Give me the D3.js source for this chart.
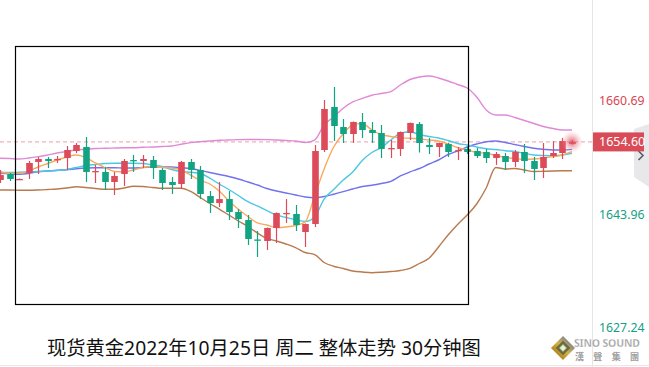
<!DOCTYPE html>
<html><head><meta charset="utf-8">
<script src="https://cdn.jsdelivr.net/npm/d3@7"></script>
<style>
body{margin:0;background:#fff;overflow:hidden;}
svg{display:block;}
text{font-family:"Noto Sans","Noto Sans CJK SC",sans-serif;}
</style>
</head><body><div id="chart"></div>
<script>
// ---- data (30-min candles) ----
const opens  = [1649.00,1649.88,1649.07,1650.03,1651.65,1652.09,1652.01,1652.23,1653.26,1653.85,1650.18,1650.18,1648.71,1649.88,1651.94,1651.79,1651.94,1650.47,1648.71,1648.41,1651.65,1650.47,1646.65,1645.62,1646.20,1644.29,1643.12,1640.25,1640.03,1641.94,1644.07,1644.00,1641.35,1642.53,1653.41,1659.73,1656.79,1655.76,1657.53,1656.35,1655.91,1653.63,1653.56,1655.91,1657.23,1654.15,1653.85,1654.29,1653.34,1653.56,1653.26,1653.12,1652.23,1652.53,1651.65,1653.12,1651.79,1650.76,1652.53,1652.97,1654.30];
const highs  = [1650.47,1650.03,1649.22,1651.79,1652.38,1652.38,1652.53,1654.00,1654.44,1655.32,1651.21,1650.91,1650.18,1652.09,1652.68,1652.68,1652.53,1650.76,1649.44,1651.79,1652.09,1651.06,1647.38,1648.71,1647.38,1644.73,1643.85,1641.50,1642.01,1644.22,1646.20,1645.32,1642.60,1654.15,1660.76,1662.68,1657.97,1657.60,1658.85,1657.53,1657.09,1654.88,1656.13,1657.45,1657.53,1655.18,1654.51,1654.44,1653.85,1653.85,1653.70,1653.56,1653.12,1652.97,1653.41,1654.29,1652.38,1654.44,1654.73,1655.18,1654.85];
const lows   = [1648.56,1648.85,1649.00,1649.15,1649.88,1650.76,1651.50,1650.47,1652.97,1648.71,1648.56,1647.53,1646.79,1648.12,1650.18,1650.76,1649.15,1647.53,1646.94,1647.68,1649.15,1646.20,1644.15,1645.03,1643.12,1641.94,1639.44,1637.68,1638.71,1639.74,1642.68,1641.50,1639.15,1642.09,1653.12,1654.73,1654.44,1654.44,1655.18,1654.44,1652.23,1652.23,1652.53,1654.88,1653.04,1652.82,1652.38,1652.38,1651.94,1652.82,1652.23,1651.50,1651.21,1650.47,1650.91,1650.03,1649.00,1649.29,1652.23,1652.09,1654.20];
const closes = [1649.73,1649.15,1649.15,1651.50,1652.09,1651.79,1652.09,1653.41,1654.15,1650.18,1650.32,1648.71,1649.59,1651.79,1651.79,1652.09,1650.76,1648.56,1648.26,1651.65,1650.47,1646.94,1645.62,1646.20,1644.29,1643.26,1640.32,1640.18,1641.94,1644.15,1644.15,1642.38,1642.53,1653.26,1659.44,1656.94,1655.76,1657.53,1656.35,1655.91,1653.56,1653.70,1656.06,1657.38,1654.44,1653.85,1654.44,1653.12,1653.41,1653.12,1652.53,1652.23,1652.82,1651.65,1653.12,1651.79,1650.62,1652.38,1652.97,1654.73,1654.60];

// moving averages and bands
const maFast = [1650.22,1649.98,1649.98,1650.32,1650.91,1651.43,1651.94,1652.38,1652.68,1652.31,1651.50,1650.84,1650.25,1650.18,1650.47,1650.84,1650.99,1650.84,1650.76,1650.47,1649.73,1648.96,1648.41,1647.38,1645.94,1644.69,1643.63,1642.68,1642.38,1642.01,1642.09,1642.31,1642.82,1646.65,1650.62,1653.85,1655.81,1657.09,1657.31,1656.35,1655.66,1655.40,1655.18,1655.13,1655.03,1654.88,1654.73,1654.29,1653.78,1653.41,1653.04,1652.93,1652.60,1652.34,1652.16,1652.06,1652.09,1652.23,1652.43,1652.68,1653.16];
const maMid  = [1650.10,1650.10,1650.13,1650.18,1650.25,1650.32,1650.40,1650.54,1650.84,1651.13,1651.28,1651.43,1651.46,1651.46,1651.46,1651.43,1651.21,1650.99,1650.54,1650.25,1650.13,1649.96,1649.29,1648.41,1647.60,1646.72,1645.81,1645.18,1644.49,1643.85,1643.49,1643.16,1642.90,1643.56,1646.20,1647.60,1649.00,1650.18,1651.87,1653.04,1653.78,1654.88,1655.87,1656.10,1655.69,1655.40,1655.18,1654.81,1654.37,1654.15,1653.85,1653.59,1653.49,1653.31,1653.19,1652.93,1652.68,1652.60,1652.57,1652.68,1652.93];
const maSlow = [1649.98,1649.91,1649.85,1649.96,1650.22,1650.32,1650.43,1650.50,1650.65,1650.76,1650.81,1650.81,1650.81,1650.76,1650.76,1650.84,1650.91,1650.91,1650.91,1650.79,1650.69,1650.40,1650.10,1649.81,1649.51,1649.15,1648.71,1648.26,1647.75,1647.38,1647.09,1646.79,1646.50,1646.38,1646.57,1646.91,1647.28,1647.68,1648.04,1648.23,1648.49,1648.81,1649.59,1650.18,1650.69,1651.35,1651.94,1652.75,1653.26,1653.85,1654.29,1654.63,1654.73,1654.51,1654.22,1653.93,1653.66,1653.51,1653.41,1653.41,1653.51];
const bandUpper = [1652.19,1652.16,1652.09,1652.23,1652.43,1652.68,1652.97,1653.19,1653.41,1653.51,1653.63,1653.66,1653.70,1653.74,1653.75,1653.81,1653.85,1653.93,1654.00,1654.25,1654.49,1654.63,1654.73,1654.84,1654.88,1654.93,1654.96,1654.96,1654.93,1654.88,1654.81,1654.73,1654.51,1654.88,1657.09,1658.26,1659.54,1660.47,1660.99,1661.46,1661.72,1662.01,1662.97,1663.78,1664.15,1664.29,1664.00,1663.56,1663.04,1662.53,1661.21,1659.29,1658.56,1658.56,1658.19,1657.75,1657.31,1656.87,1656.57,1656.35,1656.35];
const bandLower = [1647.53,1647.53,1647.50,1647.49,1647.53,1647.60,1647.68,1647.82,1648.01,1647.90,1647.75,1647.63,1647.63,1647.82,1648.07,1648.04,1647.90,1647.78,1647.78,1647.78,1647.31,1646.43,1645.54,1644.73,1643.85,1642.97,1642.16,1641.21,1640.40,1640.03,1639.59,1639.07,1638.34,1638.04,1636.87,1636.31,1635.99,1635.62,1635.47,1635.37,1635.43,1635.54,1635.69,1636.01,1636.72,1637.49,1639.15,1640.91,1642.46,1643.85,1645.47,1647.82,1650.84,1650.62,1650.69,1650.47,1650.25,1650.28,1650.32,1650.35,1650.37];

const tickValues = [1660.69, 1643.96, 1627.24];
const lastPrice = 1654.60;
const title = "现货黄金2022年10月25日 周二 整体走势 30分钟图";
const logoTop = "SINO SOUND";
const logoBottom = "漢 聲 集 團";

// ---- layout ----
const W = 649, H = 367;
const plotRight = 592;
const colUp = "#dc4b59", colDown = "#12a383";

const svg = d3.select("#chart").append("svg").attr("width", W).attr("height", H);
const defs = svg.append("defs");
defs.append("clipPath").attr("id","clip").append("rect").attr("x",0).attr("y",0).attr("width",plotRight).attr("height",330);
const glow = defs.append("radialGradient").attr("id","glow");
glow.append("stop").attr("offset","0%").attr("stop-color","#dc4b59").attr("stop-opacity",0.85);
glow.append("stop").attr("offset","45%").attr("stop-color","#e7707c").attr("stop-opacity",0.45);
glow.append("stop").attr("offset","100%").attr("stop-color","#f4a8b0").attr("stop-opacity",0);
const logoGrad = defs.append("linearGradient").attr("id","logoGrad").attr("x1","0").attr("y1","0").attr("x2","0").attr("y2","1");
logoGrad.append("stop").attr("offset","0%").attr("stop-color","#8a8a8a");
logoGrad.append("stop").attr("offset","50%").attr("stop-color","#d4b04a");
logoGrad.append("stop").attr("offset","100%").attr("stop-color","#b08a20");

const x = d3.scaleLinear().domain([0, opens.length - 1]).range([0, 572]);
const y = d3.scaleLinear().domain([1627.24, 1660.69]).range([327.96, 100.5]);

// separator + bottom rule
svg.append("line").attr("x1",plotRight+0.5).attr("x2",plotRight+0.5).attr("y1",0).attr("y2",H).attr("stroke","#e6e6e6");
svg.append("line").attr("x1",0).attr("x2",W).attr("y1",H-1.5).attr("y2",H-1.5).attr("stroke","#e8e8e8");

const plot = svg.append("g").attr("clip-path","url(#clip)");

// current price dashed line
plot.append("line").attr("x1",0).attr("x2",plotRight).attr("y1",y(lastPrice)).attr("y2",y(lastPrice))
  .attr("stroke","#f0b4bb").attr("stroke-width",1.2).attr("stroke-dasharray","4,3");

// lines
const line = d3.line().x((d,i)=>x(i)).y(d=>y(d)).curve(d3.curveMonotoneX);
const series = [
  {v: bandUpper, c: "#e08ad6"},
  {v: bandLower, c: "#b87a4e"},
  {v: maSlow, c: "#7272ee"},
  {v: maMid, c: "#4cc8e2"},
  {v: maFast, c: "#f9a95e"}
];
plot.selectAll("path.s").data(series).join("path").attr("class","s")
  .attr("d", d=>line(d.v)).attr("fill","none").attr("stroke", d=>d.c).attr("stroke-width",1.4);

// candles
const data = opens.map((o,i)=>({i, o, h: highs[i], l: lows[i], c: closes[i]}));
const bw = 6.6;
const cg = plot.selectAll("g.c").data(data).join("g").attr("class","c");
cg.append("line")
  .attr("x1", d=>Math.round(x(d.i))+0.5).attr("x2", d=>Math.round(x(d.i))+0.5)
  .attr("y1", d=>y(d.h)).attr("y2", d=>y(d.l))
  .attr("stroke", d=>d.c>=d.o?colUp:colDown).attr("stroke-width",1.2);
cg.append("rect")
  .attr("x", d=>Math.round(x(d.i))+0.5-bw/2).attr("width", bw)
  .attr("y", d=>y(Math.max(d.o,d.c)))
  .attr("height", d=>Math.max(1.3, Math.abs(y(d.o)-y(d.c))))
  .attr("fill", d=>d.c>=d.o?colUp:colDown);

// glow at last candle
const last = data[data.length-1];
plot.append("circle").attr("cx", x(last.i)).attr("cy", y(lastPrice)).attr("r", 11).attr("fill","url(#glow)");

// annotation rectangle
svg.append("rect").attr("x",15.5).attr("y",46.5).attr("width",453).attr("height",258)
  .attr("fill","none").attr("stroke","#000").attr("stroke-width",1.2);

// right axis
const axis = d3.axisRight(y).tickValues(tickValues).tickSize(0).tickPadding(0).tickFormat(d3.format(".2f"));
const ag = svg.append("g").attr("transform",`translate(${plotRight+7},0)`).call(axis);
ag.select(".domain").remove();
ag.selectAll("text").attr("font-size",12.3).attr("font-family","Noto Sans, sans-serif")
  .attr("fill", d=> d>lastPrice ? "#d9434f" : "#13a083");

// gray tab
svg.append("path").attr("d","M634,129 L649,124 L649,187 L634,177 Z").attr("fill","#e8e8eb");
svg.append("path").attr("d","M638.5,151 L643,155.5 L638.5,160").attr("fill","none").attr("stroke","#5a5a66").attr("stroke-width",1.6);

// last price box
const by = y(lastPrice);
svg.append("rect").attr("x",plotRight+1).attr("y",by-9.5).attr("width",51).attr("height",19).attr("fill","#d94b57");
svg.append("text").attr("x",plotRight+7).attr("y",by).attr("dy","0.35em").attr("font-size",12.5)
  .attr("fill","#fff").text(d3.format(".2f")(lastPrice));

// title
svg.append("text").attr("x",47).attr("y",355).attr("font-size",19.3)
  .attr("font-family","'Noto Sans CJK SC', sans-serif").attr("fill","#111").text(title);

// logo
const lg = svg.append("g").attr("transform","translate(563,348)");
lg.append("rect").attr("x",-8.5).attr("y",-8.5).attr("width",17).attr("height",17).attr("transform","rotate(45)").attr("fill","url(#logoGrad)");
lg.append("rect").attr("x",-5.2).attr("y",-5.2).attr("width",10.4).attr("height",10.4).attr("transform","rotate(45)").attr("fill","#6e6a3a");
lg.append("rect").attr("x",-2.6).attr("y",-2.6).attr("width",5.2).attr("height",5.2).attr("transform","rotate(45)").attr("fill","#e8f0d8").attr("stroke","#7aa060").attr("stroke-width",0.8);
svg.append("text").attr("x",574).attr("y",347).attr("font-size",10.5).attr("font-weight","bold")
  .attr("font-family","'DejaVu Sans', sans-serif").attr("fill","#9a9a9a").attr("stroke","#fff").attr("stroke-width",0.3)
  .attr("textLength",66).text(logoTop);
svg.append("text").attr("x",575).attr("y",360).attr("font-size",9).attr("font-weight","bold")
  .attr("font-family","'Noto Sans CJK TC', sans-serif").attr("fill","#a0a0a0")
  .attr("textLength",64).text(logoBottom);
</script>
</body></html>
